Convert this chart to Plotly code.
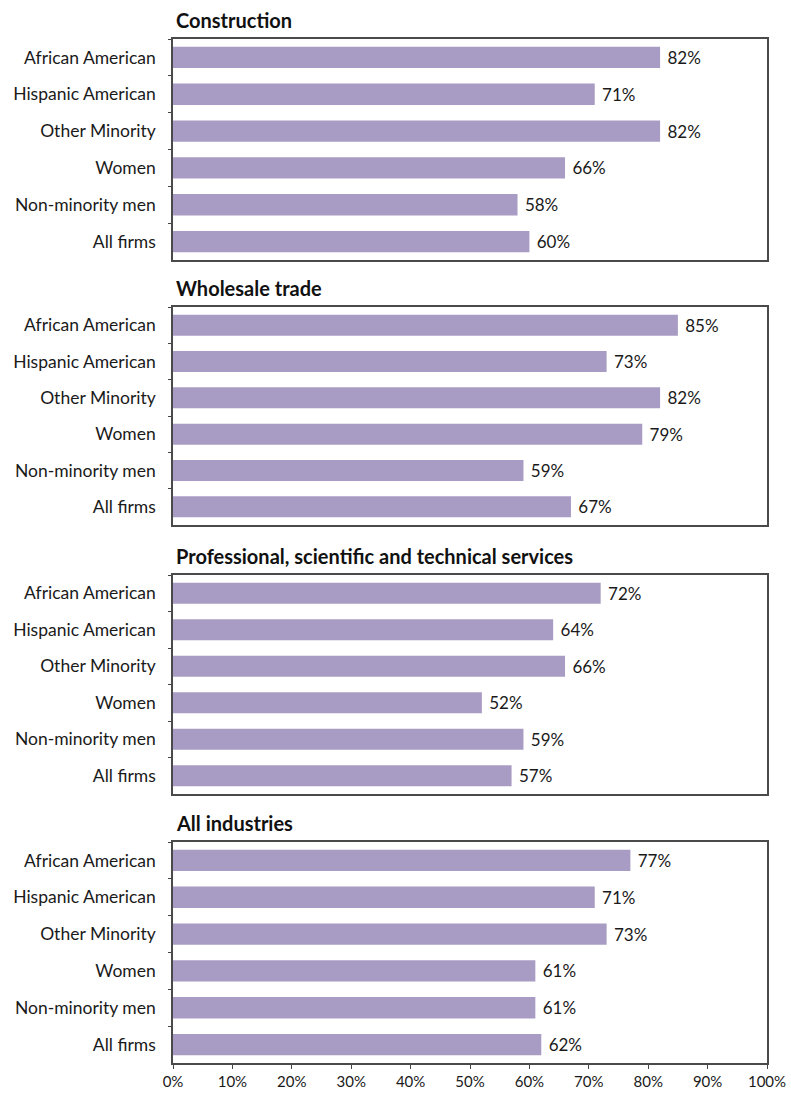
import plotly.graph_objects as go

groups = ["African American", "Hispanic American", "Other Minority",
          "Women", "Non-minority men", "All firms"]

panel_titles = ["Construction", "Wholesale trade",
                "Professional, scientific and technical services", "All industries"]

construction = [82, 71, 82, 66, 58, 60]
wholesale = [85, 73, 82, 79, 59, 67]
professional = [72, 64, 66, 52, 59, 57]
all_industries = [77, 71, 73, 61, 61, 62]

x_ticks = [0, 10, 20, 30, 40, 50, 60, 70, 80, 90, 100]
x_tick_labels = [f"{t}%" for t in x_ticks]

series = [construction, wholesale, professional, all_industries]

W, H = 791, 1096
ML, MR, MT, MB = 173, 24, 39, 33
plot_h = H - MT - MB

# panel frames in pixels (top, bottom)
frames = [(39, 260), (307, 525), (575, 794), (842, 1063)]

BAR = "#A99CC4"
FONT = "Lato, 'Open Sans', Arial, sans-serif"

fig = go.Figure()
annotations = []

for i, (vals, title, (top, bot)) in enumerate(zip(series, panel_titles, frames)):
    n = i + 1
    xa = "x" if n == 1 else f"x{n}"
    ya = "y" if n == 1 else f"y{n}"
    fig.add_trace(go.Bar(
        x=vals, y=groups, orientation="h",
        xaxis=xa, yaxis=ya,
        marker=dict(color=BAR, line=dict(width=0)),
        width=0.58,
        text=[f"{v}%" for v in vals],
        texttemplate=" %{text}",
        textposition="outside",
        textfont=dict(family=FONT, size=17, color="#1a1a1a"),
        cliponaxis=False,
        showlegend=False,
        hoverinfo="skip",
    ))
    d0 = (H - MB - bot) / plot_h
    d1 = (H - MB - top) / plot_h
    last = n == 4
    fig.layout[f"xaxis{'' if n == 1 else n}"] = dict(
        domain=[0, 1], range=[0, 100], anchor=ya,
        tickmode="array", tickvals=x_ticks, ticktext=x_tick_labels,
        showticklabels=last, automargin=False,
        ticks="outside" if last else "", ticklen=4, tickcolor="#444",
        showgrid=False, zeroline=False,
        showline=True, linecolor="#4a4a4a", linewidth=1.5, mirror=True,
        tickfont=dict(family=FONT, size=15, color="#1a1a1a"),
        fixedrange=True,
    )
    fig.layout[f"yaxis{'' if n == 1 else n}"] = dict(
        domain=[d0, d1], anchor=xa, autorange="reversed",
        type="category", tickson="boundaries", automargin=False,
        ticks="outside", ticklen=3, tickcolor="#444",
        ticklabelstandoff=12,
        showgrid=False, zeroline=False,
        showline=True, linecolor="#4a4a4a", linewidth=1.5, mirror=True,
        tickfont=dict(family=FONT, size=17.5, color="#1a1a1a"),
        fixedrange=True,
    )
    annotations.append(dict(
        text=f"<b>{title}</b>", x=0.002, y=d1,
        xref="paper", yref="paper", xanchor="left", yanchor="middle",
        yshift=19, showarrow=False,
        font=dict(family=FONT, size=20, color="#111"),
    ))

fig.update_layout(
    width=W, height=H,
    margin=dict(l=ML, r=MR, t=MT, b=MB, autoexpand=False),
    paper_bgcolor="white", plot_bgcolor="white",
    bargap=0.4,
    annotations=annotations,
)

fig.write_html("out.html")
